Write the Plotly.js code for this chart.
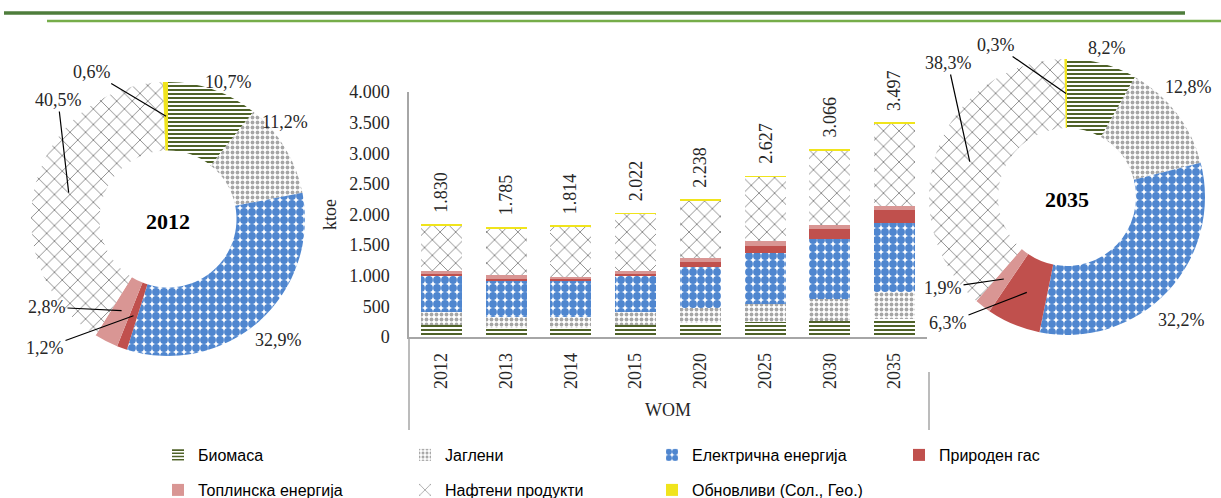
<!DOCTYPE html>
<html>
<head>
<meta charset="utf-8">
<script src="https://cdn.plot.ly/plotly-3.0.1.min.js"></script>
<style>html,body{margin:0;padding:0;background:#fff;}#chart{width:1221px;height:498px;}</style>
</head>
<body>
<div id="chart"></div>
<script>
// ---------- DATA ----------
const categories = ['2012','2013','2014','2015','2020','2025','2030','2035'];
const seriesNames = ['Биомаса','Јаглени','Електрична енергија','Природен гас','Топлинска енергија','Нафтени продукти','Обновливи (Сол., Гео.)'];
const biomass     = [196,145,150,196,223,250,265,287];
const coal        = [205,185,170,207,245,295,350,448];
const electricity = [602,600,592,609,670,820,985,1126];
const gas         = [22,12,40,22,82,125,160,220];
const heat        = [51,65,25,44,65,70,70,66];
const oil         = [743,768,825,932,942,1055,1222,1340];
const renewables  = [11,10,12,12,11,12,14,10];
const share2012   = [10.7,11.2,32.9,1.2,2.8,40.5,0.6];
const share2035   = [8.2,12.8,32.2,6.3,1.9,38.3,0.3];
const xAxisGroup  = 'WOM';
const yAxisTitle  = 'ktoe';

// ---------- STYLE ----------
const W = 1221, H = 498;
const serif = 'Liberation Serif, Times New Roman, serif';
const sans = 'Liberation Sans, Arial, sans-serif';
const markers = [
  {color:'#4f6228', pattern:{shape:'-', fgcolor:'#4f6228', bgcolor:'#ffffff', size:4, solidity:0.5}},
  {color:'#a6a6a6', pattern:{shape:'.', fgcolor:'#a6a6a6', bgcolor:'#ffffff', size:5, solidity:0.45}},
  {color:'#4f86cf', pattern:{shape:'.', fgcolor:'#4f86cf', bgcolor:'#ffffff', size:8, solidity:0.75}},
  {color:'#c0504d'},
  {color:'#d99694'},
  {color:'#7f7f7f', pattern:{shape:'x', fgcolor:'#7f7f7f', bgcolor:'#ffffff', size:11, solidity:0.15}},
  {color:'#f0e41c'}
];
const seriesData = [biomass, coal, electricity, gas, heat, oil, renewables];

const traces = [];
seriesData.forEach((vals, i) => {
  const m = JSON.parse(JSON.stringify(markers[i]));
  traces.push({
    type:'bar', x:categories, y:vals, name:seriesNames[i],
    marker:m,
    legend: i < 4 ? 'legend' : 'legend2'
  });
});

// donuts
const donuts = [
  {share:share2012, year:'2012', cx:168, cy:219, r:137,
   pos:[[60,-137],[117,-97],[110,121],[-123,129],[-121,88],[-110,-119],[-76,-147]],
   leader:[0,0,0,1,1,1,1]},
  {share:share2035, year:'2035', cx:1067, cy:197, r:138,
   pos:[[40,-149],[121,-110],[114,123],[-119,126],[-124,91],[-119,-134],[-71,-152]],
   leader:[0,0,0,1,1,1,1]}
];
const annotations = [];
donuts.forEach(d => {
  traces.push({
    type:'pie', values:d.share, labels:seriesNames, sort:false, direction:'clockwise', rotation:0,
    hole:0.5, textinfo:'none', showlegend:false,
    marker:{colors:markers.map(m=>m.color), pattern:{
      shape:markers.map(m=>m.pattern?m.pattern.shape:''),
      fgcolor:markers.map(m=>m.pattern?m.pattern.fgcolor:m.color),
      bgcolor:markers.map(m=>m.pattern?m.pattern.bgcolor:m.color),
      size:markers.map(m=>m.pattern?m.pattern.size:8),
      solidity:markers.map(m=>m.pattern?m.pattern.solidity:0.3)
    }, line:{width:0}},
    domain:{x:[(d.cx-d.r)/W,(d.cx+d.r)/W], y:[(H-d.cy-d.r)/H,(H-d.cy+d.r)/H]},
    title:{text:'<b>'+d.year+'</b>', position:'middle center', font:{family:serif, size:22, color:'#000'}}
  });
  const total = d.share.reduce((a,b)=>a+b,0);
  let cum = 0;
  d.share.forEach((v,i) => {
    const mid = (cum + v/2)/total; cum += v;
    const th = 2*Math.PI*mid, rm = d.r*0.75;
    const px = d.cx + rm*Math.sin(th), py = d.cy - rm*Math.cos(th);
    const lx = d.cx + d.pos[i][0], ly = d.cy + d.pos[i][1];
    const txt = v.toFixed(1).replace('.',',') + '%';
    if (d.leader[i]) {
      annotations.push({xref:'paper', yref:'paper', x:px/W, y:1-py/H, ax:lx-px, ay:ly-py,
        axref:'pixel', ayref:'pixel', text:txt, showarrow:true, arrowhead:0, arrowwidth:1.2,
        arrowcolor:'#000', standoff:0, startstandoff:0, font:{family:serif, size:18, color:'#262626'}});
    } else {
      annotations.push({xref:'paper', yref:'paper', x:lx/W, y:1-ly/H, text:txt, showarrow:false,
        xanchor:'center', yanchor:'middle', font:{family:serif, size:18, color:'#262626'}});
    }
  });
});

// totals above bars
categories.forEach((c,k) => {
  const tot = seriesData.reduce((s,arr)=>s+arr[k],0);
  annotations.push({xref:'x', yref:'y', x:k, y:tot, text:tot.toLocaleString('de-DE'), textangle:-90,
    showarrow:false, yanchor:'bottom', xanchor:'center', yshift:10,
    font:{family:serif, size:18, color:'#262626'}});
});

const axisGrey = '#a6a6a6';
const legendBase = {orientation:'h', x:158/W, xanchor:'left', yanchor:'middle', entrywidth:202, entrywidthmode:'pixels',
    traceorder:'normal', font:{family:sans, size:16, color:'#000'}, bgcolor:'rgba(0,0,0,0)'};
const layout = {
  width:W, height:H, margin:{l:0,r:0,t:0,b:0,autoexpand:false}, paper_bgcolor:'#fff', plot_bgcolor:'#fff',
  barmode:'stack', bargap:0.365, separators:',.',
  xaxis:{domain:[409/W,927/W], type:'category', showgrid:false, showline:true, linecolor:axisGrey, linewidth:1.5,
    ticks:'outside', ticklen:7, tickcolor:'rgba(0,0,0,0)', tickangle:-90, tickfont:{family:serif, size:18, color:'#262626'},
    title:{text:xAxisGroup, standoff:15, font:{family:serif, size:18, color:'#262626'}}, fixedrange:true},
  yaxis:{domain:[(H-337)/H,(H-92)/H], range:[0,4000], dtick:500, tickformat:',', showgrid:false, zeroline:false,
    showline:true, linecolor:axisGrey, linewidth:1.5, ticks:'outside', ticklen:14, tickcolor:'rgba(0,0,0,0)',
    tickfont:{family:serif, size:18, color:'#262626'},
    title:{text:yAxisTitle, standoff:8, font:{family:serif, size:18, color:'#262626'}}, fixedrange:true},
  legend:Object.assign({}, legendBase, {y:1-455/H}),
  legend2:Object.assign({}, legendBase, {y:1-490/H}),
  annotations:annotations,
  shapes:[
    {type:'line', xref:'paper', yref:'paper', x0:4/W, x1:1185/W, y0:1-13/H, y1:1-13/H, line:{color:'#4e7d3b', width:3.5}},
    {type:'line', xref:'paper', yref:'paper', x0:47/W, x1:1, y0:1-21/H, y1:1-21/H, line:{color:'#76ad4a', width:2.5}},
    {type:'line', xref:'paper', yref:'paper', x0:409/W, x1:409/W, y0:1-337/H, y1:1-430/H, line:{color:axisGrey, width:1.5}},
    {type:'line', xref:'paper', yref:'paper', x0:929/W, x1:929/W, y0:1-372/H, y1:1-430/H, line:{color:axisGrey, width:1.5}}
  ]
};
Plotly.newPlot('chart', traces, layout, {displayModeBar:false});
</script>
</body>
</html>
